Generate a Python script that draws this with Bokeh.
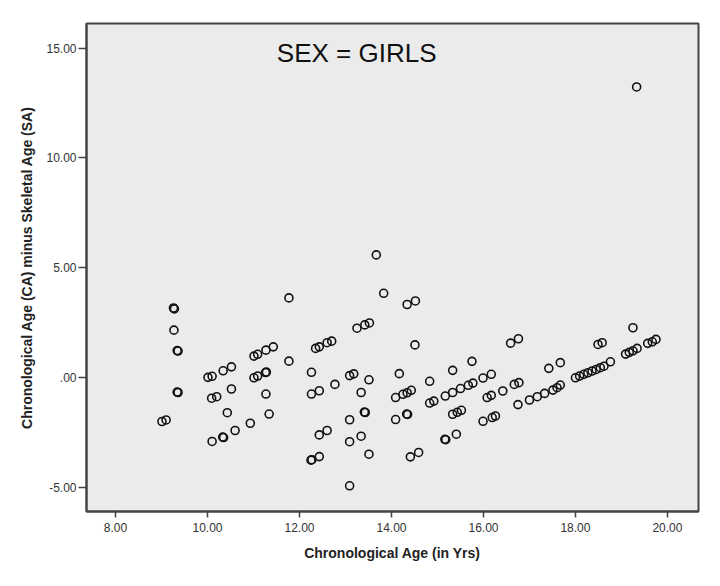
from bokeh.plotting import figure
from bokeh.models import Range1d, FixedTicker, NumeralTickFormatter, Label, ColumnDataSource
from bokeh.embed import file_html
from bokeh.resources import INLINE

# Chronological age (years) and CA minus SA
age = [9.26, 9.28, 9.27, 9.34, 9.36, 9.34, 9.36, 9.01, 9.10,
       10.01, 10.10, 10.34, 10.52, 10.09, 10.20, 10.52, 10.43, 10.10, 10.33, 10.35, 10.60, 10.93,
       11.01, 11.09, 11.27, 11.43, 11.01, 11.09, 11.26, 11.28, 11.27, 11.34, 11.77, 11.77,
       12.26, 12.26, 12.43, 12.35, 12.43, 12.60, 12.70, 12.77, 12.43, 12.60, 12.25, 12.27, 12.43,
       13.09, 13.18, 13.09, 13.09, 13.09, 13.25, 13.42, 13.52, 13.67, 13.83,
       14.34, 14.52, 14.51, 13.51, 13.34, 13.41, 13.43, 13.34, 13.51,
       14.17, 14.09, 14.25, 14.34, 14.43, 14.09, 14.33, 14.35, 14.41, 14.59,
       14.83, 14.83, 14.92, 15.17, 15.33, 15.50, 15.67, 15.77, 15.33, 15.75,
       15.33, 15.43, 15.52, 15.16, 15.18, 15.41,
       15.99, 16.17, 16.08, 16.17, 16.42, 16.67, 16.77, 16.75, 15.99, 16.19, 16.26, 16.59, 16.76,
       17.00, 17.17, 17.33, 17.51, 17.60, 17.67, 17.42, 17.67,
       18.00, 18.09, 18.18, 18.27, 18.36, 18.45, 18.54, 18.62, 18.76, 18.49, 18.58,
       19.25, 19.09, 19.17, 19.25, 19.34, 19.57, 19.67, 19.75, 19.33]
ca_minus_sa = [3.16, 3.12, 2.15, 1.22, 1.20, -0.67, -0.69, -2.01, -1.94,
               0.00, 0.05, 0.30, 0.48, -0.95, -0.88, -0.53, -1.61, -2.92, -2.72, -2.74, -2.42, -2.09,
               0.97, 1.05, 1.24, 1.39, -0.02, 0.06, 0.22, 0.24, -0.76, -1.67, 3.62, 0.74,
               0.23, -0.76, -0.61, 1.32, 1.39, 1.58, 1.65, -0.32, -2.62, -2.42, -3.77, -3.75, -3.61,
               0.08, 0.16, -1.93, -2.93, -4.94, 2.24, 2.39, 2.48, 5.58, 3.83,
               3.32, 3.48, 1.48, -0.11, -0.69, -1.58, -1.60, -2.68, -3.50,
               0.17, -0.92, -0.77, -0.70, -0.59, -1.92, -1.67, -1.69, -3.62, -3.42,
               -0.18, -1.17, -1.08, -0.85, -0.69, -0.51, -0.36, -0.26, 0.32, 0.73,
               -1.68, -1.59, -1.50, -2.82, -2.84, -2.59,
               -0.03, 0.14, -0.92, -0.82, -0.62, -0.32, -0.24, -1.24, -2.00, -1.83, -1.76, 1.56, 1.76,
               -1.03, -0.88, -0.73, -0.58, -0.47, -0.35, 0.41, 0.67,
               -0.02, 0.06, 0.14, 0.21, 0.29, 0.36, 0.44, 0.51, 0.71, 1.50, 1.58,
               2.26, 1.06, 1.14, 1.21, 1.32, 1.55, 1.62, 1.73, 13.23]

x_ticks = [8, 10, 12, 14, 16, 18, 20]
y_ticks = [-5, 0, 5, 10, 15]
title_text = "SEX = GIRLS"
x_label = "Chronological Age (in Yrs)"
y_label = "Chronological Age (CA) minus Skeletal Age (SA)"

FONT = "Liberation Sans"

p = figure(width=704, height=570, output_backend="svg", toolbar_location=None,
           x_range=Range1d(7.369, 20.675), y_range=Range1d(-6.11, 16.12),
           min_border_left=86, min_border_top=23, min_border_right=6, min_border_bottom=59)

p.background_fill_color = "#ebebeb"
p.border_fill_color = "white"
p.outline_line_color = "#444444"
p.outline_line_width = 2
p.grid.visible = False

src = ColumnDataSource(data=dict(x=age, y=ca_minus_sa))
p.scatter("x", "y", source=src, marker="circle", size=8, fill_alpha=0,
          line_color="#111111", line_width=1.6)

for ax in (p.xaxis[0], p.yaxis[0]):
    ax.axis_line_color = "#444444"
    ax.axis_line_width = 2
    ax.major_tick_line_color = "#444444"
    ax.major_tick_line_width = 1.5
    ax.major_tick_in = 0
    ax.minor_tick_line_color = None
    ax.major_label_text_font = FONT
    ax.major_label_text_font_size = "12px"
    ax.major_label_text_color = "#333333"
    ax.axis_label_text_font = FONT
    ax.axis_label_text_font_size = "14px"
    ax.axis_label_text_font_style = "bold"
    ax.axis_label_text_color = "#222222"

p.xaxis.ticker = FixedTicker(ticks=x_ticks)
p.yaxis.ticker = FixedTicker(ticks=y_ticks)
p.xaxis.formatter = NumeralTickFormatter(format="0.00")
p.yaxis.formatter = NumeralTickFormatter(format="0.00")
p.yaxis.major_label_overrides = {0: ".00"}
p.xaxis.major_tick_out = 6
p.yaxis.major_tick_out = 8
p.xaxis.major_label_standoff = 5
p.yaxis.major_label_standoff = 2
p.xaxis.axis_label = x_label
p.yaxis.axis_label = y_label
p.xaxis.axis_label_standoff = 10
p.yaxis.axis_label_standoff = 8

p.add_layout(Label(x=13.243, y=14.79, text=title_text, text_align="center",
                   text_baseline="alphabetic", text_font=FONT, text_font_size="26px",
                   text_color="#111111"))

open("out.html", "w").write(file_html(p, INLINE))
